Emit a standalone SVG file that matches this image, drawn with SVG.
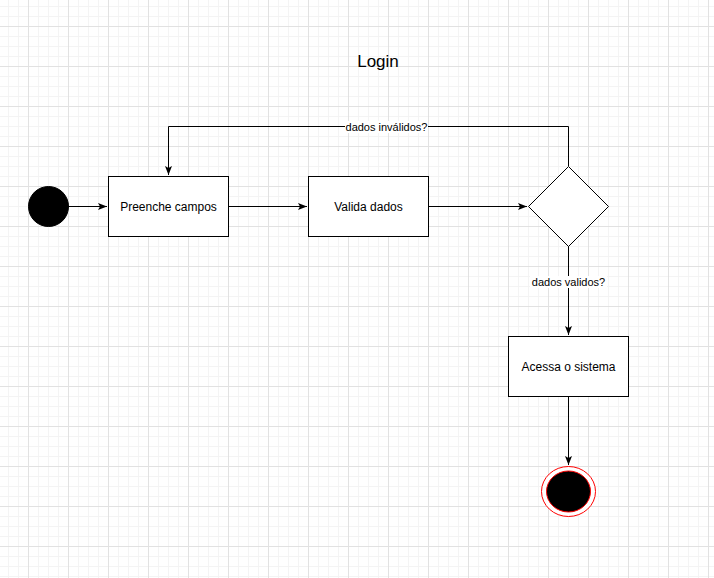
<svg xmlns="http://www.w3.org/2000/svg" width="714" height="578" viewBox="0 0 714 578">
<style>
.box{fill:#fff;stroke:#000;stroke-width:1}
.edge{fill:none;stroke:#000;stroke-width:1}
.t{font-family:"Liberation Sans",Arial,sans-serif;fill:#000}
.lbl{font-size:11px;text-anchor:middle}
.nt{font-size:12px;text-anchor:middle}
</style>
<defs>
<pattern id="minor" patternUnits="userSpaceOnUse" x="8" y="6" width="10" height="10">
<path d="M0.5 0V10M0 0.5H10" stroke="#f4f4f4" stroke-width="1" fill="none"/>
</pattern>
<pattern id="major" patternUnits="userSpaceOnUse" x="28" y="26" width="40" height="40">
<path d="M0.5 0V40M0 0.5H40" stroke="#e2e2e2" stroke-width="1" fill="none"/>
</pattern>
<marker id="arr" markerWidth="10" markerHeight="8" refX="9" refY="4" orient="auto" markerUnits="userSpaceOnUse">
<path d="M0 0.5L9 4L0 7.5L2 4Z" fill="#000"/>
</marker>
</defs>
<rect width="714" height="578" fill="#fff"/>
<rect width="714" height="578" fill="url(#minor)"/>
<rect width="714" height="578" fill="url(#major)"/>
<text class="t" x="378" y="67" font-size="17" text-anchor="middle">Login</text>
<g id="connectors">
<path class="edge" d="M68 206.5H107" marker-end="url(#arr)"/>
<path class="edge" d="M228 206.5H307" marker-end="url(#arr)"/>
<path class="edge" d="M428 206.5H527" marker-end="url(#arr)"/>
<path class="edge" d="M568.5 166V126.5H168.5V175" marker-end="url(#arr)"/>
<rect x="345" y="121" width="83" height="12" fill="#fff"/>
<text class="t lbl" x="386.5" y="131">dados inválidos?</text>
<path class="edge" d="M568.5 246V335" marker-end="url(#arr)"/>
<rect x="530" y="276" width="77" height="12" fill="#fff"/>
<text class="t lbl" x="568.5" y="286">dados validos?</text>
<path class="edge" d="M568.5 396V465" marker-end="url(#arr)"/>
</g>
<g id="start">
<circle cx="48.5" cy="206.5" r="20" fill="#000" stroke="#000"/>
</g>
<g id="preenche">
<rect class="box" x="108.5" y="176.5" width="120" height="60"/>
<text class="t nt" x="168.5" y="210.5">Preenche campos</text>
</g>
<g id="valida">
<rect class="box" x="308.5" y="176.5" width="120" height="60"/>
<text class="t nt" x="368.5" y="210.5">Valida dados</text>
</g>
<g id="decisao">
<path class="box" d="M568.5 166.5L608.5 206.5L568.5 246.5L528.5 206.5Z"/>
</g>
<g id="acessa">
<rect class="box" x="508.5" y="336.5" width="120" height="60"/>
<text class="t nt" x="568.5" y="370.5">Acessa o sistema</text>
</g>
<g id="fim">
<ellipse cx="568.5" cy="491.5" rx="27" ry="25" fill="#fff" stroke="#ff0000" stroke-width="1"/>
<ellipse cx="568.5" cy="491.5" rx="22" ry="20.5" fill="#000" stroke="#ff0000" stroke-width="1"/>
</g>
</svg>
